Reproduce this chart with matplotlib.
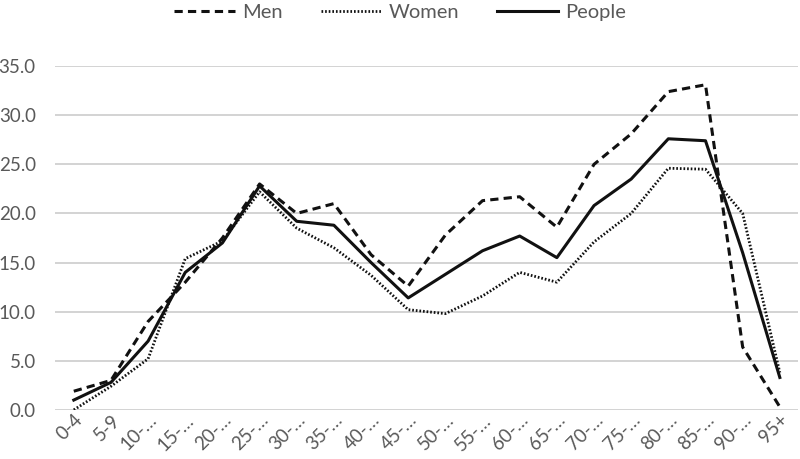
import matplotlib
matplotlib.use("Agg")
import matplotlib.pyplot as plt

ages = ["0-4", "5-9", "10-…", "15-…", "20-…", "25-…", "30-…", "35-…", "40-…", "45-…",
        "50-…", "55-…", "60-…", "65-…", "70-…", "75-…", "80-…", "85-…", "90-…", "95+"]
men = [1.9, 3.0, 9.0, 13.0, 17.5, 23.0, 20.0, 21.0, 15.8, 12.6,
       17.8, 21.3, 21.7, 18.6, 25.0, 28.1, 32.4, 33.1, 6.4, 0.3]
women = [0.0, 2.4, 5.2, 15.4, 17.2, 22.2, 18.5, 16.5, 13.7, 10.2,
         9.8, 11.6, 14.0, 13.0, 17.1, 20.0, 24.6, 24.5, 20.0, 3.8]
people = [1.0, 2.8, 7.0, 14.0, 17.0, 22.8, 19.2, 18.8, 15.0, 11.4,
          13.8, 16.2, 17.7, 15.5, 20.8, 23.5, 27.6, 27.4, 16.0, 3.3]

plt.rcParams['font.family'] = ['Lato', 'DejaVu Sans']
grey = '#595959'

fig = plt.figure(figsize=(8, 4.59), dpi=100)
# axes box in figure fractions, matched to the reference gridlines
ax = fig.add_axes([0.069, 0.107, 0.929, 0.749])

x = range(len(ages))
ax.plot(x, men, color='#111111', lw=2.2, linestyle=(0, (2.7, 1.7)), label='Men')
ax.plot(x, women, color='#111111', lw=2.0, linestyle=(0, (0.6, 0.7)), label='Women')
ax.plot(x, people, color='#111111', lw=2.2, label='People')

ax.set_ylim(0, 35)
ax.set_xlim(-0.5, 19.5)
yt = [0, 5, 10, 15, 20, 25, 30, 35]
ax.set_yticks(yt)
ax.set_yticklabels(['%.1f' % v for v in yt])
ax.set_xticks(list(x))
ax.set_xticklabels(ages, rotation=45, ha='right', va='top', rotation_mode='anchor')
ax.tick_params(axis='both', length=0, colors=grey, labelsize=13.5)
ax.tick_params(axis='y', pad=14)
ax.tick_params(axis='x', pad=1)
ax.grid(axis='y', color='#d0d0d0', lw=1.3)
ax.set_axisbelow(True)
for s in ax.spines.values():
    s.set_visible(False)

fig.legend(loc='upper center', bbox_to_anchor=(0.5, 1.03), ncol=3, frameon=False,
           fontsize=14.5, labelcolor=grey, handlelength=3.0, handletextpad=0.35,
           columnspacing=1.9)

fig.savefig('out.png', dpi=100)
